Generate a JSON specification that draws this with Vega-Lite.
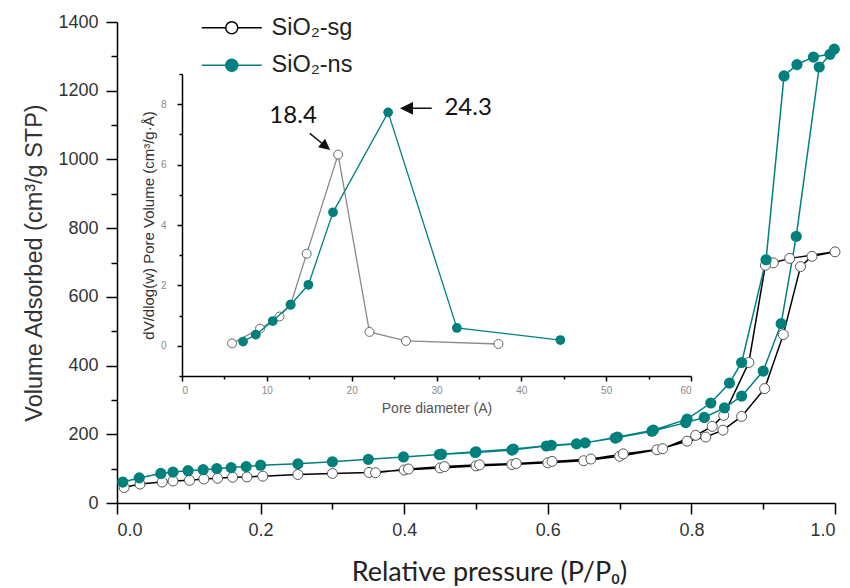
{
  "$schema": "https://vega.github.io/schema/vega-lite/v6.json",
  "autosize": {"type": "none"},
  "padding": {"left": 117, "top": 22, "right": 15, "bottom": 85},
  "width": 718,
  "height": 481,
  "config": {
    "view": {"stroke": null},
    "axis": {
      "grid": false,
      "domainColor": "#000000",
      "domainWidth": 1.5,
      "tickColor": "#000000",
      "tickWidth": 1.5,
      "labelFont": "Liberation Sans",
      "titleFont": "Liberation Sans",
      "titleFontWeight": "normal"
    }
  },
  "datasets": {
    "iso": [
      {"s": "SiO₂-sg", "i": 1, "p": 0.010, "v": 45},
      {"s": "SiO₂-sg", "i": 2, "p": 0.032, "v": 55},
      {"s": "SiO₂-sg", "i": 3, "p": 0.063, "v": 61},
      {"s": "SiO₂-sg", "i": 4, "p": 0.078, "v": 64},
      {"s": "SiO₂-sg", "i": 5, "p": 0.101, "v": 66},
      {"s": "SiO₂-sg", "i": 6, "p": 0.121, "v": 70},
      {"s": "SiO₂-sg", "i": 7, "p": 0.140, "v": 72},
      {"s": "SiO₂-sg", "i": 8, "p": 0.161, "v": 75},
      {"s": "SiO₂-sg", "i": 9, "p": 0.181, "v": 76},
      {"s": "SiO₂-sg", "i": 10, "p": 0.203, "v": 78},
      {"s": "SiO₂-sg", "i": 11, "p": 0.252, "v": 83},
      {"s": "SiO₂-sg", "i": 12, "p": 0.300, "v": 86},
      {"s": "SiO₂-sg", "i": 13, "p": 0.351, "v": 89},
      {"s": "SiO₂-sg", "i": 14, "p": 0.400, "v": 96},
      {"s": "SiO₂-sg", "i": 15, "p": 0.450, "v": 102},
      {"s": "SiO₂-sg", "i": 16, "p": 0.500, "v": 108},
      {"s": "SiO₂-sg", "i": 17, "p": 0.550, "v": 112},
      {"s": "SiO₂-sg", "i": 18, "p": 0.600, "v": 117},
      {"s": "SiO₂-sg", "i": 19, "p": 0.650, "v": 123},
      {"s": "SiO₂-sg", "i": 20, "p": 0.700, "v": 136},
      {"s": "SiO₂-sg", "i": 21, "p": 0.752, "v": 155},
      {"s": "SiO₂-sg", "i": 22, "p": 0.794, "v": 180},
      {"s": "SiO₂-sg", "i": 23, "p": 0.820, "v": 192},
      {"s": "SiO₂-sg", "i": 24, "p": 0.844, "v": 212},
      {"s": "SiO₂-sg", "i": 25, "p": 0.870, "v": 252},
      {"s": "SiO₂-sg", "i": 26, "p": 0.902, "v": 333},
      {"s": "SiO₂-sg", "i": 27, "p": 0.928, "v": 490},
      {"s": "SiO₂-sg", "i": 28, "p": 0.952, "v": 688},
      {"s": "SiO₂-sg", "i": 29, "p": 0.968, "v": 718},
      {"s": "SiO₂-sg", "i": 30, "p": 1.000, "v": 731},
      {"s": "SiO₂-sg", "i": 31, "p": 0.937, "v": 712},
      {"s": "SiO₂-sg", "i": 32, "p": 0.914, "v": 699},
      {"s": "SiO₂-sg", "i": 33, "p": 0.903, "v": 692},
      {"s": "SiO₂-sg", "i": 34, "p": 0.880, "v": 409},
      {"s": "SiO₂-sg", "i": 35, "p": 0.845, "v": 255},
      {"s": "SiO₂-sg", "i": 36, "p": 0.829, "v": 223},
      {"s": "SiO₂-sg", "i": 37, "p": 0.806, "v": 197},
      {"s": "SiO₂-sg", "i": 38, "p": 0.760, "v": 158},
      {"s": "SiO₂-sg", "i": 39, "p": 0.705, "v": 143},
      {"s": "SiO₂-sg", "i": 40, "p": 0.660, "v": 128},
      {"s": "SiO₂-sg", "i": 41, "p": 0.606, "v": 121},
      {"s": "SiO₂-sg", "i": 42, "p": 0.556, "v": 115},
      {"s": "SiO₂-sg", "i": 43, "p": 0.505, "v": 111},
      {"s": "SiO₂-sg", "i": 44, "p": 0.456, "v": 106},
      {"s": "SiO₂-sg", "i": 45, "p": 0.406, "v": 99},
      {"s": "SiO₂-sg", "i": 46, "p": 0.360, "v": 88},
      {"s": "SiO₂-ns", "i": 1, "p": 0.008, "v": 61},
      {"s": "SiO₂-ns", "i": 2, "p": 0.031, "v": 73},
      {"s": "SiO₂-ns", "i": 3, "p": 0.061, "v": 86},
      {"s": "SiO₂-ns", "i": 4, "p": 0.078, "v": 90},
      {"s": "SiO₂-ns", "i": 5, "p": 0.099, "v": 94},
      {"s": "SiO₂-ns", "i": 6, "p": 0.120, "v": 97},
      {"s": "SiO₂-ns", "i": 7, "p": 0.139, "v": 100},
      {"s": "SiO₂-ns", "i": 8, "p": 0.159, "v": 103},
      {"s": "SiO₂-ns", "i": 9, "p": 0.180, "v": 106},
      {"s": "SiO₂-ns", "i": 10, "p": 0.200, "v": 110},
      {"s": "SiO₂-ns", "i": 11, "p": 0.252, "v": 114},
      {"s": "SiO₂-ns", "i": 12, "p": 0.300, "v": 120},
      {"s": "SiO₂-ns", "i": 13, "p": 0.350, "v": 127},
      {"s": "SiO₂-ns", "i": 14, "p": 0.399, "v": 134},
      {"s": "SiO₂-ns", "i": 15, "p": 0.449, "v": 141},
      {"s": "SiO₂-ns", "i": 16, "p": 0.499, "v": 147},
      {"s": "SiO₂-ns", "i": 17, "p": 0.550, "v": 154},
      {"s": "SiO₂-ns", "i": 18, "p": 0.598, "v": 166},
      {"s": "SiO₂-ns", "i": 19, "p": 0.640, "v": 172},
      {"s": "SiO₂-ns", "i": 20, "p": 0.694, "v": 189},
      {"s": "SiO₂-ns", "i": 21, "p": 0.745, "v": 209},
      {"s": "SiO₂-ns", "i": 22, "p": 0.792, "v": 234},
      {"s": "SiO₂-ns", "i": 23, "p": 0.818, "v": 249},
      {"s": "SiO₂-ns", "i": 24, "p": 0.846, "v": 277},
      {"s": "SiO₂-ns", "i": 25, "p": 0.870, "v": 311},
      {"s": "SiO₂-ns", "i": 26, "p": 0.900, "v": 384},
      {"s": "SiO₂-ns", "i": 27, "p": 0.925, "v": 522},
      {"s": "SiO₂-ns", "i": 28, "p": 0.946, "v": 776},
      {"s": "SiO₂-ns", "i": 29, "p": 0.978, "v": 1269},
      {"s": "SiO₂-ns", "i": 30, "p": 0.999, "v": 1321},
      {"s": "SiO₂-ns", "i": 31, "p": 0.993, "v": 1306},
      {"s": "SiO₂-ns", "i": 32, "p": 0.970, "v": 1298},
      {"s": "SiO₂-ns", "i": 33, "p": 0.947, "v": 1276},
      {"s": "SiO₂-ns", "i": 34, "p": 0.929, "v": 1243},
      {"s": "SiO₂-ns", "i": 35, "p": 0.904, "v": 708},
      {"s": "SiO₂-ns", "i": 36, "p": 0.870, "v": 409},
      {"s": "SiO₂-ns", "i": 37, "p": 0.853, "v": 349},
      {"s": "SiO₂-ns", "i": 38, "p": 0.827, "v": 291},
      {"s": "SiO₂-ns", "i": 39, "p": 0.794, "v": 244},
      {"s": "SiO₂-ns", "i": 40, "p": 0.747, "v": 212},
      {"s": "SiO₂-ns", "i": 41, "p": 0.697, "v": 192},
      {"s": "SiO₂-ns", "i": 42, "p": 0.652, "v": 175},
      {"s": "SiO₂-ns", "i": 43, "p": 0.605, "v": 168},
      {"s": "SiO₂-ns", "i": 44, "p": 0.552, "v": 157},
      {"s": "SiO₂-ns", "i": 45, "p": 0.500, "v": 149},
      {"s": "SiO₂-ns", "i": 46, "p": 0.452, "v": 142}
    ],
    "psd": [
      {"s": "SiO₂-sg", "d": 5.9, "w": 0.08},
      {"s": "SiO₂-sg", "d": 9.2, "w": 0.57},
      {"s": "SiO₂-sg", "d": 11.5, "w": 0.97},
      {"s": "SiO₂-sg", "d": 12.8, "w": 1.36},
      {"s": "SiO₂-sg", "d": 14.7, "w": 3.05},
      {"s": "SiO₂-sg", "d": 18.4, "w": 6.33},
      {"s": "SiO₂-sg", "d": 22.1, "w": 0.46},
      {"s": "SiO₂-sg", "d": 26.4, "w": 0.16},
      {"s": "SiO₂-sg", "d": 37.3, "w": 0.06},
      {"s": "SiO₂-ns", "d": 7.2, "w": 0.14},
      {"s": "SiO₂-ns", "d": 8.7, "w": 0.37},
      {"s": "SiO₂-ns", "d": 10.7, "w": 0.82},
      {"s": "SiO₂-ns", "d": 12.8, "w": 1.36},
      {"s": "SiO₂-ns", "d": 14.9, "w": 2.02},
      {"s": "SiO₂-ns", "d": 17.8, "w": 4.42},
      {"s": "SiO₂-ns", "d": 24.3, "w": 7.73},
      {"s": "SiO₂-ns", "d": 32.4, "w": 0.59},
      {"s": "SiO₂-ns", "d": 44.6, "w": 0.19}
    ]
  },
  "layer": [
    {
      "data": {"name": "iso"},
      "encoding": {
        "x": {
          "field": "p", "type": "quantitative",
          "scale": {"domain": [0, 1], "nice": false, "zero": false},
          "axis": {
            "title": "Relative pressure (P/P₀)",
            "values": [0, 0.1, 0.2, 0.3, 0.4, 0.5, 0.6, 0.7, 0.8, 0.9, 1],
            "labelExpr": "round(datum.value*10)%2==0 ? format(datum.value,'.1f') : ''",
            "tickSize": {"condition": {"test": "round(datum.value*10)%2==0", "value": 11}, "value": 6},
            "labelFontSize": 18, "labelColor": "#333333", "labelPadding": 7,
            "titleFont": "Lato", "titleFontSize": 27, "titleColor": "#222222", "titlePadding": 20,
            "titleX": 372
          }
        },
        "y": {
          "field": "v", "type": "quantitative",
          "scale": {"domain": [0, 1400], "nice": false, "zero": false},
          "axis": {
            "title": "Volume Adsorbed (cm³/g STP)",
            "values": [0, 100, 200, 300, 400, 500, 600, 700, 800, 900, 1000, 1100, 1200, 1300, 1400],
            "labelExpr": "datum.value%200==0 ? format(datum.value,'d') : ''",
            "tickSize": {"condition": {"test": "datum.value%200==0", "value": 11}, "value": 6},
            "labelFontSize": 18, "labelColor": "#333333", "labelPadding": 8,
            "titleFontSize": 23.5, "titleColor": "#333333", "titlePadding": 11
          }
        }
      },
      "layer": [
        {
          "mark": {"type": "line", "strokeWidth": 1.5},
          "encoding": {
            "order": {"field": "i", "type": "quantitative"},
            "color": {
              "field": "s", "type": "nominal",
              "scale": {"domain": ["SiO₂-sg", "SiO₂-ns"], "range": ["#000000", "#008080"]},
              "legend": {
                "orient": "none", "legendX": 103, "legendY": -6, "title": null, "padding": 0,
                "symbolType": "M-3,0L-0.6,0M0.6,0L3,0M-0.6,0A0.6,0.6,0,1,1,0.6,0A0.6,0.6,0,1,1,-0.6,0Z",
                "symbolSize": 400, "symbolStrokeWidth": 1.5,
                "labelFont": "Liberation Sans", "labelFontSize": 23.5, "labelColor": "#222222",
                "labelOffset": 28, "rowPadding": 12.5,
                "encode": {"symbols": {"update": {"fill": {"signal": "datum.value === 'SiO₂-sg' ? '#ffffff' : '#008080'"}, "fillOpacity": {"value": 1}}}}
              }
            }
          }
        },
        {
          "transform": [{"filter": "datum.s == 'SiO₂-sg'"}],
          "mark": {"type": "point", "shape": "circle", "size": 100, "filled": true, "fill": "#ffffff", "stroke": "#555555", "strokeWidth": 1, "opacity": 1}
        },
        {
          "transform": [{"filter": "datum.s == 'SiO₂-ns'"}],
          "mark": {"type": "point", "shape": "circle", "size": 125, "filled": true, "color": "#00807c", "opacity": 1}
        }
      ]
    },
    {
      "data": {"name": "psd"},
      "encoding": {
        "x": {
          "field": "d", "type": "quantitative",
          "scale": {"domain": [0, 60], "range": [65, 574], "nice": false, "zero": false},
          "axis": {
            "orient": "bottom", "offset": -127,
            "title": "Pore diameter (A)",
            "values": [0, 5, 10, 15, 20, 25, 30, 35, 40, 45, 50, 55, 60],
            "labelExpr": "datum.value%10==0 ? format(datum.value,'d') : ''",
            "tickSize": {"condition": {"test": "datum.value%10==0", "value": 5}, "value": 3},
            "labelFontSize": 10, "labelColor": "#888888", "labelPadding": 4,
            "titleFontSize": 14, "titleColor": "#555555", "titlePadding": 6
          }
        },
        "y": {
          "field": "w", "type": "quantitative",
          "scale": {"domain": [-1, 9], "range": [354, 52], "nice": false, "zero": false},
          "axis": {
            "orient": "left", "offset": -65,
            "title": "dV/dlog(w) Pore Volume (cm³/g·Å)",
            "values": [-1, 0, 1, 2, 3, 4, 5, 6, 7, 8, 9],
            "labelExpr": "datum.value%2==0 ? format(datum.value,'d') : ''",
            "tickSize": {"condition": {"test": "datum.value%2==0", "value": 5}, "value": 3},
            "labelFontSize": 10, "labelColor": "#888888", "labelPadding": 11,
            "titleFontSize": 15, "titleColor": "#333333", "titlePadding": 4
          }
        }
      },
      "layer": [
        {
          "transform": [{"filter": "datum.s == 'SiO₂-sg'"}],
          "mark": {"type": "line", "color": "#8a8a8a", "strokeWidth": 1.3}
        },
        {
          "transform": [{"filter": "datum.s == 'SiO₂-sg'"}],
          "mark": {"type": "point", "shape": "circle", "size": 80, "filled": true, "fill": "#ffffff", "stroke": "#666666", "strokeWidth": 1, "opacity": 1}
        },
        {
          "transform": [{"filter": "datum.s == 'SiO₂-ns'"}],
          "mark": {"type": "line", "color": "#008080", "strokeWidth": 1.3}
        },
        {
          "transform": [{"filter": "datum.s == 'SiO₂-ns'"}],
          "mark": {"type": "point", "shape": "circle", "size": 95, "filled": true, "color": "#00807c", "opacity": 1}
        },
        {
          "transform": [{"filter": "datum.s == 'SiO₂-sg' && datum.d == 18.4"}],
          "mark": {"type": "text", "font": "Lato", "fontSize": 24, "color": "#111111", "dx": -45, "dy": -39},
          "encoding": {"text": {"field": "d", "type": "quantitative", "format": ".1f"}}
        },
        {
          "transform": [{"filter": "datum.s == 'SiO₂-sg' && datum.d == 18.4"}],
          "mark": {"type": "point", "shape": "M-1,0L0.4,0M1,0L0.3,-0.35L0.3,0.35Z", "size": 600, "angle": 39, "filled": true, "fill": "#111111", "stroke": "#111111", "strokeWidth": 1.5, "opacity": 1, "xOffset": -18.8, "yOffset": -13.5}
        },
        {
          "transform": [{"filter": "datum.s == 'SiO₂-ns' && datum.d == 24.3"}],
          "mark": {"type": "text", "font": "Lato", "fontSize": 24, "color": "#111111", "dx": 80, "dy": -4.5},
          "encoding": {"text": {"field": "d", "type": "quantitative", "format": ".1f"}}
        },
        {
          "transform": [{"filter": "datum.s == 'SiO₂-ns' && datum.d == 24.3"}],
          "mark": {"type": "point", "shape": "M-1,0L0.4,0M1,0L0.3,-0.35L0.3,0.35Z", "size": 900, "angle": 180, "filled": true, "fill": "#111111", "stroke": "#111111", "strokeWidth": 1.5, "opacity": 1, "xOffset": 28.6, "yOffset": -4}
        }
      ]
    }
  ],
  "resolve": {
    "scale": {"x": "independent", "y": "independent", "color": "independent"},
    "axis": {"x": "independent", "y": "independent"}
  }
}
